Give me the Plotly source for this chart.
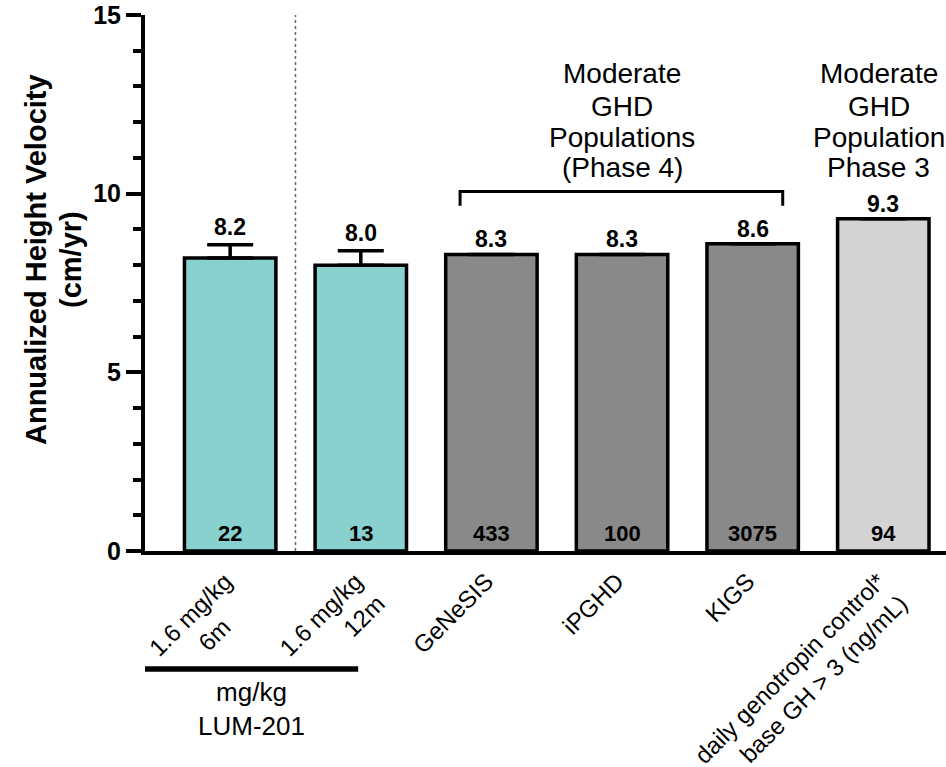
import plotly.graph_objects as go

# ---- data ----
categories = ["1.6 mg/kg<br>6m" + "&nbsp;" * 5, "1.6 mg/kg<br>12m", "GeNeSIS", "iPGHD", "KIGS",
              "daily genotropin control*<br>base GH &gt; 3 (ng/mL)"]
values = [8.2, 8.0, 8.3, 8.3, 8.6, 9.3]
value_labels = ["8.2", "8.0", "8.3", "8.3", "8.6", "9.3"]
errors_up = [0.37, 0.40, None, None, None, None]
n_labels = ["22", "13", "433", "100", "3075", "94"]
colors = ["#88D1CF", "#88D1CF", "#898989", "#898989", "#898989", "#D3D3D3"]

y_ticks = [0, 5, 10, 15]
group_phase4_lines = ["Moderate", "GHD", "Populations", "(Phase 4)"]
group_phase3_lines = ["Moderate", "GHD", "Population", "Phase 3"]
lum_text = "mg/kg<br>LUM-201"
y_title_lines = ["Annualized Height Velocity", "(cm/yr)"]

FONT = "Liberation Sans, Arial, Helvetica, sans-serif"

# body margin is removed in post_script so the figure fills the 946x767 window
W, H = 946, 767
ML, MR, MT, MB = 145, 0, 15, 767 - 551
plot_w = W - ML - MR
plot_h = H - MT - MB

def px_to_paper_x(px):
    return (px - ML) / plot_w

def px_to_paper_y(py):
    return (H - MB - py) / plot_h

fig = go.Figure()

fig.add_trace(go.Bar(
    x=list(range(len(categories))),
    y=values,
    width=0.70,
    marker=dict(color=colors, line=dict(color="black", width=3.5)),
    error_y=dict(type="data", symmetric=False, array=errors_up,
                 arrayminus=[0] * len(values), color="black",
                 thickness=3.5, width=23, visible=True),
    showlegend=False,
    hoverinfo="skip",
))

annotations = []
# value labels above bars
for i, (v, lab, e) in enumerate(zip(values, value_labels, errors_up)):
    top = v + (e or 0)
    annotations.append(dict(x=i, y=top, xref="x", yref="y", text=lab,
                            showarrow=False, yanchor="bottom",
                            yshift=3 if e else 0,
                            font=dict(family=FONT, size=23, color="black", weight=700)))
# n labels at bar bottoms
for i, lab in enumerate(n_labels):
    annotations.append(dict(x=i, y=0, xref="x", yref="y", text=lab,
                            showarrow=False, yanchor="bottom", yshift=3,
                            font=dict(family=FONT, size=22, color="black", weight=700)))

# group header texts
line_px = [73, 106, 137, 168]
for lines, xc in [(group_phase4_lines, 3.0), (group_phase3_lines, 4.965)]:
    for ln, py in zip(lines, line_px):
        annotations.append(dict(x=xc, y=px_to_paper_y(py), xref="x", yref="paper",
                                text=ln, showarrow=False, xanchor="center",
                                yanchor="middle",
                                font=dict(family=FONT, size=28, color="black")))

# LUM-201 group label
lum_span = (-0.652, 0.98)
annotations.append(dict(x=(lum_span[0] + lum_span[1]) / 2, y=px_to_paper_y(709),
                        xref="x", yref="paper", text=lum_text, showarrow=False,
                        xanchor="center", yanchor="middle",
                        font=dict(family=FONT, size=26, color="black")))

# y-axis title (two lines)
for ln, px in zip(y_title_lines, [36, 71]):
    annotations.append(dict(x=px_to_paper_x(px), y=px_to_paper_y(260), xref="paper",
                            yref="paper", text=ln, showarrow=False, textangle=-90,
                            xanchor="center", yanchor="middle",
                            font=dict(family=FONT, size=29, color="black", weight=700)))

shapes = []
# dotted separator
shapes.append(dict(type="line", x0=0.5, x1=0.5, y0=0, y1=15, xref="x", yref="y",
                   line=dict(color="#666666", width=1.5, dash="dot")))
# bracket over Phase 4 group
br_x0, br_x1, br_ylo, br_yhi = 1.76, 4.23, 9.66, 10.06
shapes.append(dict(type="path", xref="x", yref="y",
                   path=f"M {br_x0},{br_ylo} L {br_x0},{br_yhi} L {br_x1},{br_yhi} L {br_x1},{br_ylo}",
                   line=dict(color="black", width=3)))
# LUM-201 underline
shapes.append(dict(type="line", x0=lum_span[0], x1=lum_span[1],
                   y0=px_to_paper_y(669), y1=px_to_paper_y(669),
                   xref="x", yref="paper", line=dict(color="black", width=5.5)))

fig.update_layout(
    width=W, height=H,
    margin=dict(l=ML, r=MR, t=MT, b=MB, pad=0, autoexpand=False),
    plot_bgcolor="white", paper_bgcolor="white",
    annotations=annotations,
    shapes=shapes,
    xaxis=dict(
        range=[-0.652, 5.48], automargin=False,
        tickmode="array", tickvals=list(range(len(categories))), ticktext=categories,
        tickangle=-45, ticks="", showgrid=False, zeroline=False,
        showline=True, linecolor="black", linewidth=4,
        tickfont=dict(family=FONT, size=24, color="black"),
        ticklabeloverflow="allow", ticklabelstandoff=3, ticklabelshift=-5,
    ),
    yaxis=dict(
        range=[0, 15], automargin=False, ticklabeloverflow="allow",
        tickvals=y_ticks, ticks="outside", ticklen=15, tickwidth=4,
        tickcolor="black", showgrid=False, zeroline=False,
        showline=True, linecolor="black", linewidth=4,
        tickfont=dict(family=FONT, size=25, color="black", weight=700),
        minor=dict(ticks="outside", ticklen=8, tickwidth=3.5, tickcolor="black",
                   dtick=1, showgrid=False),
    ),
)

fig.write_html("out.html", config={"displayModeBar": False},
               post_script="document.body.style.margin='0px';document.body.style.overflow='hidden';")
